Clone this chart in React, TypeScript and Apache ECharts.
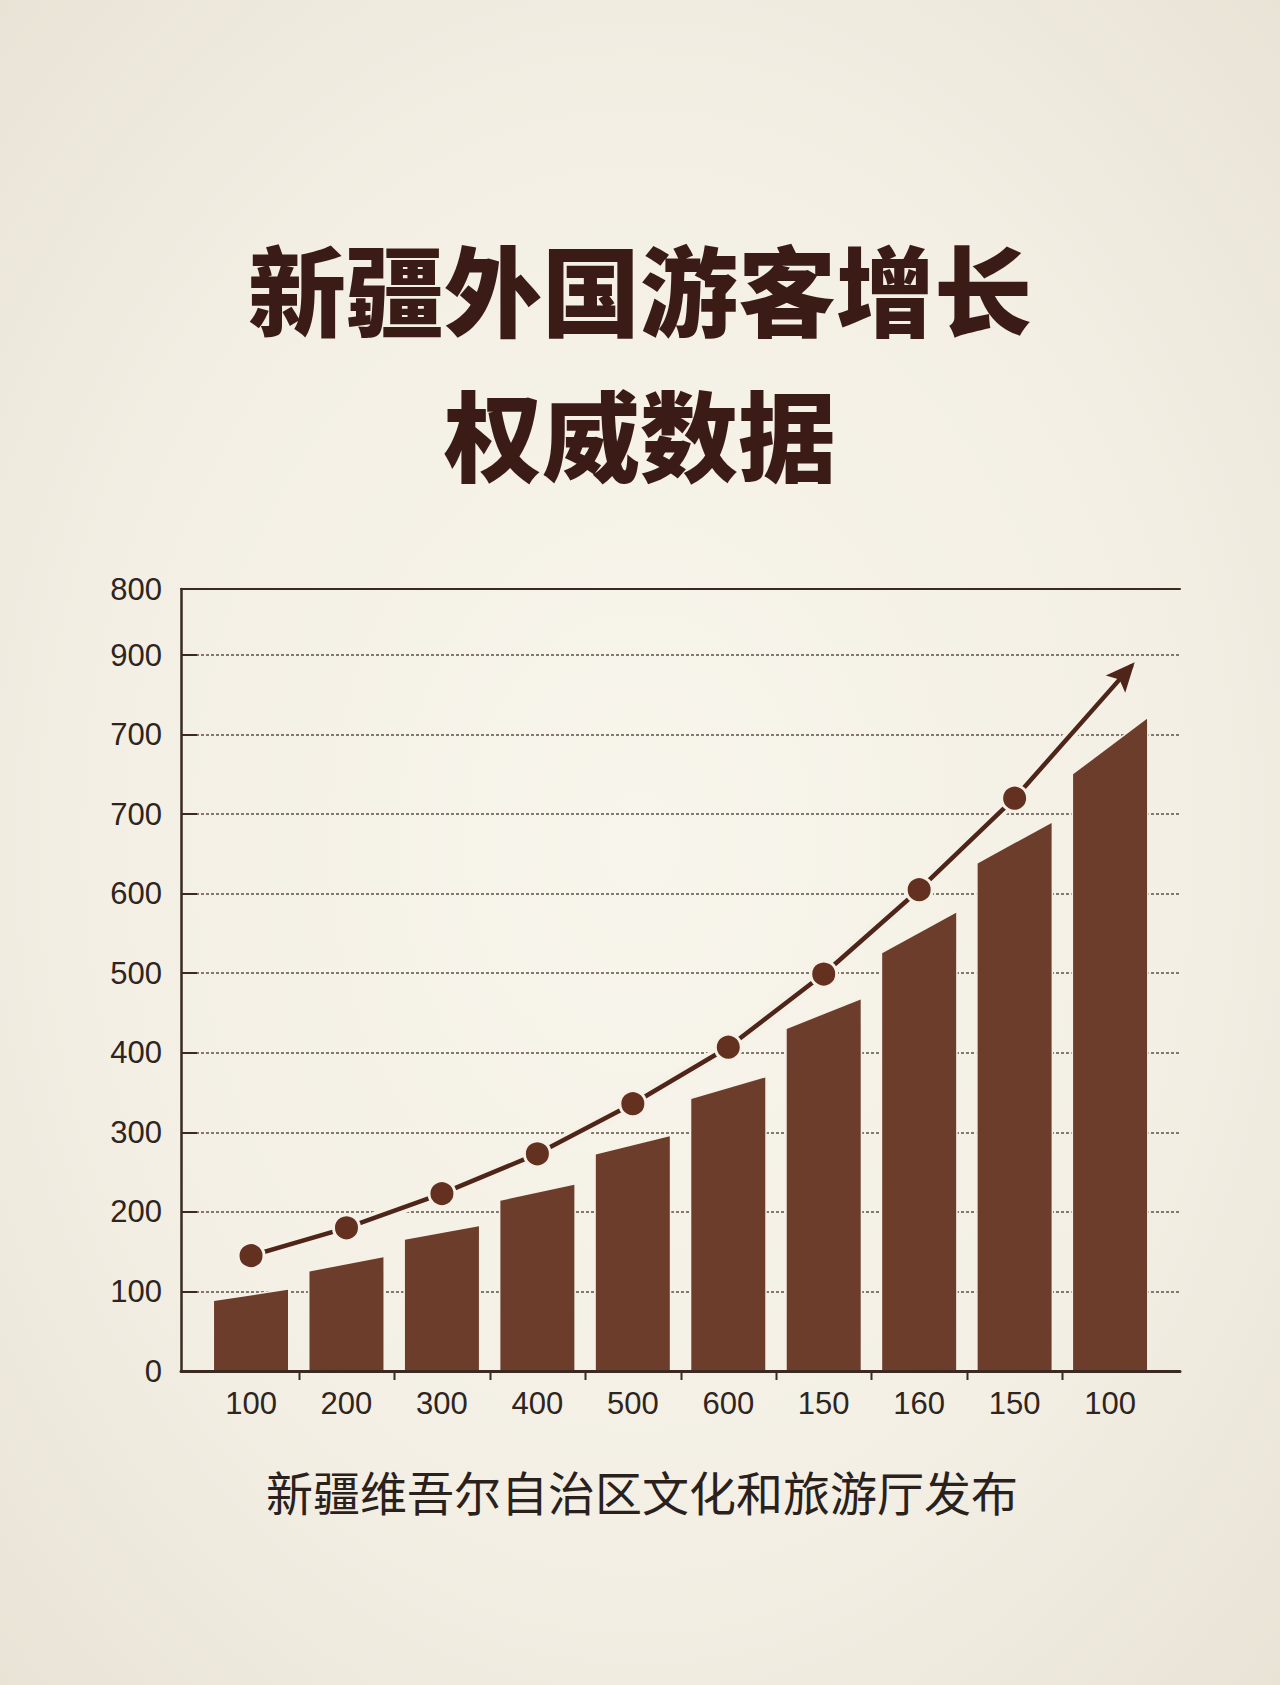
import { useRef, useEffect } from "react"
import * as echarts from "echarts"

// chart data
const xLabels = ["100", "200", "300", "400", "500", "600", "150", "160", "150", "100"]
const barLeft = [88, 125, 165, 214, 272, 342, 430, 525, 638, 750]
const barRight = [102, 143, 182, 234, 295, 369, 467, 576, 689, 820]
const lineValues = [145, 180, 223, 273, 336, 407, 499, 605, 720]
const arrowTip = [9.23, 887]
const yTickLabels = ["0", "100", "200", "300", "400", "500", "600", "700", "700", "900", "800"]
const yMax = 983

const title1 = "新疆外国游客增长"
const title2 = "权威数据"
const footer = "新疆维吾尔自治区文化和旅游厅发布"

const BG = "#f5f1e7"
const BAR = "#6d3d2b"
const LINE = "#4f2519"
const DOT = "#64301f"
const INK = "#2e2420"
const AXIS = "#3a2a22"

export default function App() {
  const chartRef = useRef<HTMLDivElement>(null)

  useEffect(() => {
    document.body.style.margin = "0"
    if (!chartRef.current) return
    const chart = echarts.init(chartRef.current, null, { renderer: "svg" })

    const linePoints: any[] = lineValues.map((v, i) => [i, v])
    linePoints.push({ value: arrowTip, symbol: "none" })

    const titleStyle = {
      font: '900 98px "Noto Sans CJK SC"',
      fill: "#3b1b15",
      align: "center",
      verticalAlign: "middle",
    }

    const option: any = {
      animation: false,
      backgroundColor: "transparent",
      graphic: [
        { type: "text", x: 640, y: 286, style: { ...titleStyle, text: title1 } },
        { type: "text", x: 640, y: 431, style: { ...titleStyle, text: title2 } },
        {
          type: "text",
          x: 642,
          y: 1490,
          style: {
            text: footer,
            font: '400 47px "Noto Sans CJK SC"',
            fill: "#2a211d",
            align: "center",
            verticalAlign: "middle",
          },
        },
      ],
      grid: [
        { left: 181, top: 589, width: 999, height: 782 },
        { left: 203.3, top: 589, width: 954.5, height: 782 },
      ],
      xAxis: [
        // frame: bottom line
        {
          gridIndex: 0,
          type: "value",
          min: 0,
          max: 1,
          position: "bottom",
          z: 10,
          axisLine: { show: true, onZero: false, lineStyle: { color: AXIS, width: 3 } },
          axisTick: { show: false },
          axisLabel: { show: false },
          splitLine: { show: false },
        },
        // frame: top line
        {
          gridIndex: 0,
          type: "value",
          min: 0,
          max: 1,
          position: "top",
          axisLine: { show: true, onZero: false, lineStyle: { color: AXIS, width: 2 } },
          axisTick: { show: false },
          axisLabel: { show: false },
          splitLine: { show: false },
        },
        // categories
        {
          gridIndex: 1,
          type: "category",
          data: xLabels,
          position: "bottom",
          axisLine: { show: false },
          axisTick: { show: false },
          axisLabel: {
            color: INK,
            fontSize: 31,
            fontFamily: '"Liberation Sans", Arial, sans-serif',
            margin: 17,
          },
          splitLine: { show: false },
        },
        // numeric x for the trend line
        {
          gridIndex: 1,
          type: "value",
          min: -0.5,
          max: 9.5,
          show: false,
        },
      ],
      yAxis: [
        {
          gridIndex: 0,
          type: "value",
          min: 0,
          max: yMax,
          interval: 100,
          axisLine: { show: true, onZero: false, lineStyle: { color: AXIS, width: 2.5 } },
          axisTick: { show: true, inside: true, length: 16, lineStyle: { color: AXIS, width: 2 } },
          axisLabel: {
            color: INK,
            fontSize: 31,
            fontFamily: '"Liberation Sans", Arial, sans-serif',
            margin: 19,
            formatter: (v: number) => yTickLabels[Math.round(v / 100)] ?? "",
          },
          splitLine: {
            show: true,
            lineStyle: { color: "#5e514a", width: 1.5, type: [3, 2] },
          },
        },
        {
          gridIndex: 1,
          type: "value",
          min: 0,
          max: yMax,
          show: false,
        },
      ],
      series: [
        {
          type: "custom",
          name: "bars",
          xAxisIndex: 2,
          yAxisIndex: 1,
          clip: false,
          z: 2,
          encode: { x: 0, y: [1, 2] },
          data: xLabels.map((_, i) => [i, barLeft[i], barRight[i]]),
          renderItem: (params: any, api: any) => {
            const i = api.value(0)
            const base = api.coord([i, 0])
            const l = api.coord([i, api.value(1)])
            const r = api.coord([i, api.value(2)])
            const bw = api.size([1, 0])[0] * 0.775
            const x0 = base[0] - bw / 2
            const x1 = base[0] + bw / 2
            return {
              type: "polygon",
              shape: {
                points: [
                  [x0, l[1]],
                  [x1, r[1]],
                  [x1, base[1]],
                  [x0, base[1]],
                ],
              },
              style: { fill: BAR, stroke: BG, lineWidth: 3, strokeFirst: true },
            }
          },
        },
        {
          type: "custom",
          name: "ticks",
          xAxisIndex: 2,
          yAxisIndex: 1,
          clip: false,
          z: 11,
          data: xLabels.slice(1).map((_, k) => [k + 1, 0]),
          renderItem: (params: any, api: any) => {
            const c = api.coord([api.value(0), 0])
            const w = api.size([1, 0])[0]
            const x = Math.round(c[0] - w / 2) + 0.5
            return {
              type: "line",
              shape: { x1: x, y1: c[1], x2: x, y2: c[1] + 9 },
              style: { stroke: AXIS, lineWidth: 2 },
            }
          },
        },
        {
          type: "line",
          name: "halo",
          xAxisIndex: 3,
          yAxisIndex: 1,
          z: 3,
          symbol: "none",
          silent: true,
          lineStyle: { color: BG, width: 12 },
          data: [...lineValues.map((v, i) => [i, v]), arrowTip],
        },
        {
          type: "line",
          name: "trend",
          xAxisIndex: 3,
          yAxisIndex: 1,
          z: 4,
          symbol: "circle",
          symbolSize: 26,
          lineStyle: { color: LINE, width: 4.5 },
          itemStyle: { color: DOT, borderColor: BG, borderWidth: 3 },
          data: linePoints,
        },
        {
          type: "custom",
          name: "arrow",
          xAxisIndex: 3,
          yAxisIndex: 1,
          clip: false,
          z: 5,
          data: [[lineValues.length - 1, lineValues[lineValues.length - 1], arrowTip[0], arrowTip[1]]],
          renderItem: (params: any, api: any) => {
            const p0 = api.coord([api.value(0), api.value(1)])
            const p1 = api.coord([api.value(2), api.value(3)])
            const dx = p1[0] - p0[0]
            const dy = p1[1] - p0[1]
            const len = Math.sqrt(dx * dx + dy * dy)
            const ux = dx / len
            const uy = dy / len
            const tip = [p1[0] + ux * 4, p1[1] + uy * 4]
            const bx = tip[0] - ux * 29
            const by = tip[1] - uy * 29
            const nx = -uy
            const ny = ux
            return {
              type: "polygon",
              shape: {
                points: [
                  tip,
                  [bx + nx * 13, by + ny * 13],
                  [bx + ux * 6, by + uy * 6],
                  [bx - nx * 13, by - ny * 13],
                ],
              },
              style: { fill: LINE },
            }
          },
        },
      ],
    }

    chart.setOption(option)

    const handleResize = () => chart.resize()
    window.addEventListener("resize", handleResize)
    return () => {
      window.removeEventListener("resize", handleResize)
      chart.dispose()
    }
  }, [])

  return (
    <div
      ref={chartRef}
      style={{
        width: "1280px",
        height: "1685px",
        background: "radial-gradient(ellipse at 50% 50%, #f8f5ec 0%, #f3efe4 60%, #e9e3d6 100%)",
      }}
    />
  )
}
